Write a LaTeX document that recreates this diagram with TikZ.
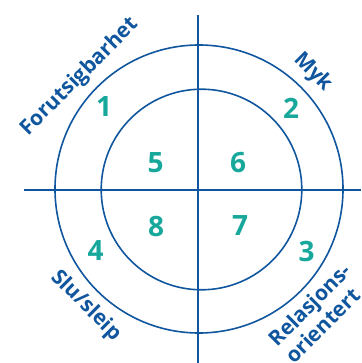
\documentclass[tikz,border=0pt]{standalone}
\usepackage{fontspec}
\setmainfont{Open Sans}
\definecolor{ringblue}{HTML}{10569E}
\definecolor{numteal}{HTML}{17A89B}
\begin{document}
\begin{tikzpicture}[x=1pt,y=-1pt,
  ring/.style={draw=ringblue,line width=1.6pt},
  num/.style={text=numteal,font=\bfseries\fontsize{28}{28}\selectfont,inner sep=0pt},
  lab/.style={text=ringblue,font=\bfseries\fontsize{21}{24}\selectfont,inner sep=0pt}]
\useasboundingbox (0,0) rectangle (361,363);
\clip (0,0) rectangle (361,363);
\coordinate (top) at (198,15);
\coordinate (bot) at (198,363);
\coordinate (left) at (24,190);
\coordinate (right) at (361,190);
\draw[ring] (199,189) circle (144);
\draw[ring] (201.5,189.5) circle (100.3);
\draw[ring] (top) -- (bot);
\draw[ring] (left) -- (right);
\node[num] (n1) at (104,107) {1};
\node[num] (n2) at (291,108) {2};
\node[num] (n3) at (306.5,251) {3};
\node[num] (n4) at (95.5,251) {4};
\node[num] (n5) at (155.5,162.5) {5};
\node[num] (n6) at (238,162.5) {6};
\node[num] (n7) at (240,226) {7};
\node[num] (n8) at (156,227) {8};
\node[lab,rotate=45] (l1) at (80,77) {Forutsigbarhet};
\node[lab,rotate=-45] (l2) at (313,72) {Myk};
\node[lab,rotate=-45] (l4) at (86,306) {Slu/sleip};
\node[lab,rotate=45,align=left] (l3) at (318,313) {Relasjons-\\orientert};
\end{tikzpicture}
\end{document}
